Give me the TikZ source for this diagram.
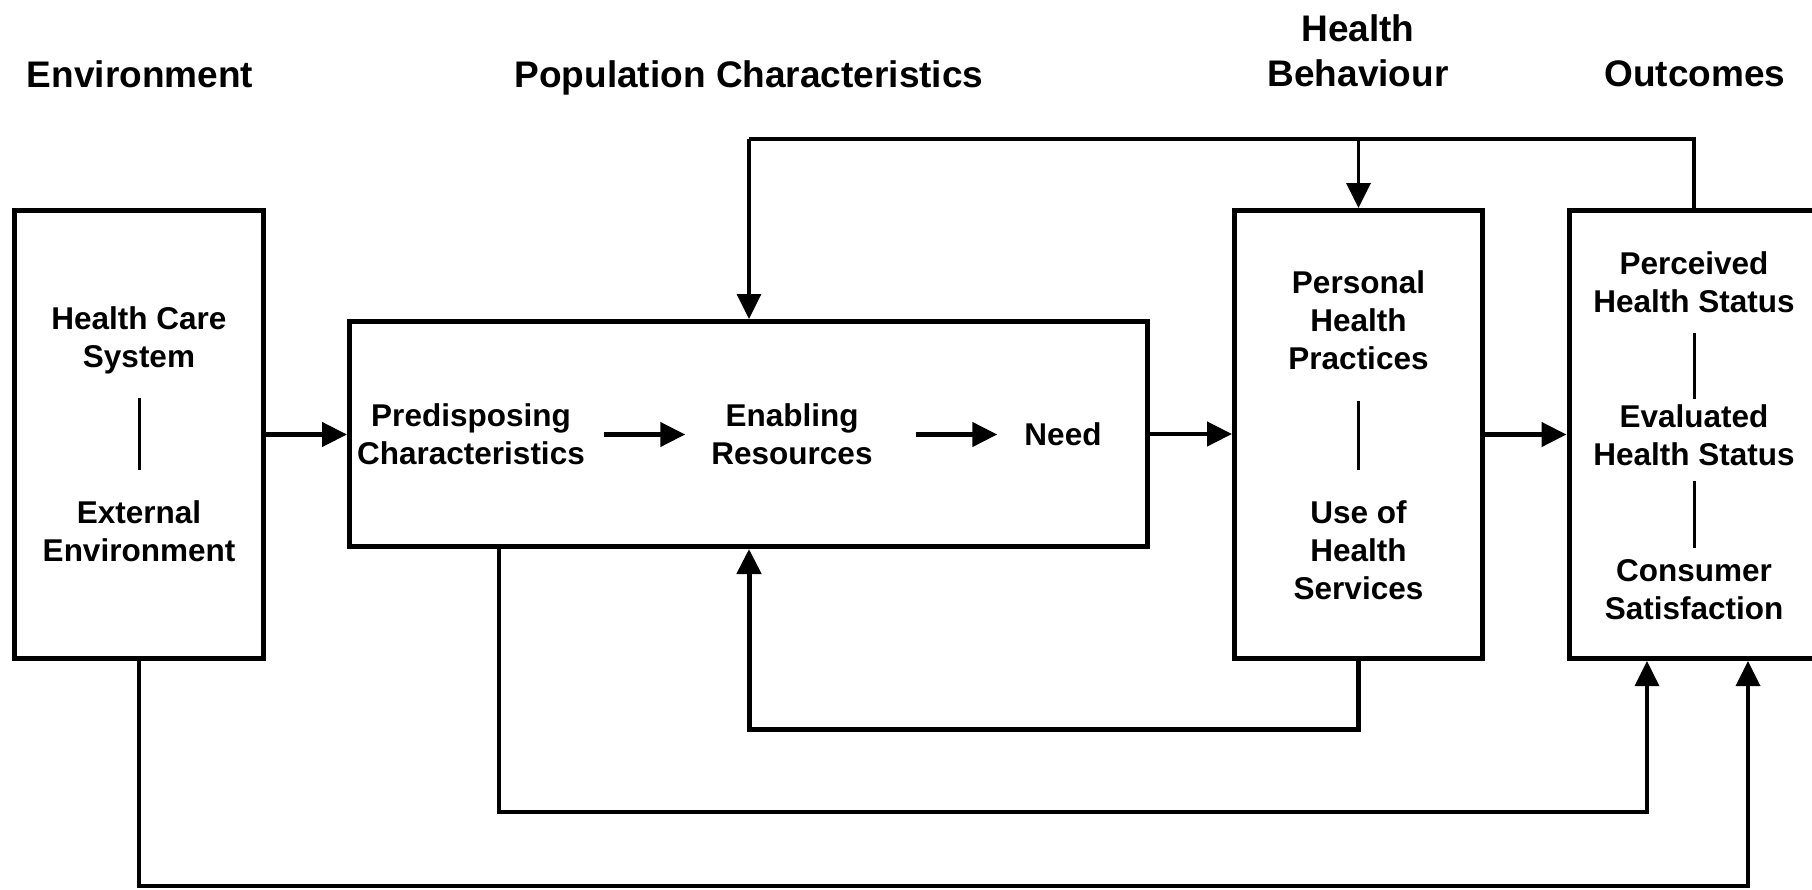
\documentclass[tikz,border=0pt]{standalone}
\usepackage{fontspec}
\setmainfont{Liberation Sans}
\usetikzlibrary{arrows.meta,calc}
\begin{document}
\begin{tikzpicture}[x=1pt,y=-1pt,
  box/.style={draw,line width=5pt,inner sep=0pt,rectangle},
  txt/.style={font=\fontsize{31.5}{38}\selectfont\bfseries,align=center,inner sep=0pt},
  ttl/.style={font=\fontsize{37}{45}\selectfont\bfseries,align=center,inner sep=0pt},
  tip/.style={-{Triangle[length=25pt,width=24pt]}},
  arr/.style={line width=4.5pt,tip},
  lnk/.style={line width=3.5pt},
  sep/.style={line width=3pt}]
\useasboundingbox (0,0) rectangle (1812,889);
\clip (0,0) rectangle (1812,889);
\fill[white] (0,0) rectangle (1812,889);
% titles
\node[ttl] (tenv) at (140,74) {Environment};
\node[ttl] (tpop) at (749,78) {Population Characteristics};
\node[ttl] (tbeh) at (1358,51) {Health\\Behaviour};
\node[ttl] (tout) at (1695,74) {Outcomes};
% boxes
\node[box,minimum width=249pt,minimum height=448pt] (env) at (139,434.5) {};
\node[box,minimum width=798pt,minimum height=225pt] (pop) at (748.5,434) {};
\node[box,minimum width=248pt,minimum height=448pt] (beh) at (1358.5,434.5) {};
\node[box,minimum width=250pt,minimum height=448pt] (out) at (1694,434.5) {};
% texts
\node[txt] (hcs) at (139,340) {Health Care\\System};
\node[txt] (ext) at (139,531) {External\\Environment};
\node[txt] (pred) at (471,434.5) {Predisposing\\Characteristics};
\node[txt] (enab) at (792,434.5) {Enabling\\Resources};
\node[txt] (need) at (1063,434.5) {Need};
\node[txt] (php) at (1358.5,320) {Personal\\Health\\Practices};
\node[txt] (uhs) at (1358.5,550) {Use of\\Health\\Services};
\node[txt] (phs) at (1694,282) {Perceived\\Health Status};
\node[txt] (ehs) at (1694,435) {Evaluated\\Health Status};
\node[txt] (cs) at (1694,590) {Consumer\\Satisfaction};
% separators
\draw[sep] (139,398) -- (139,470);
\draw[sep] (1358.5,401) -- (1358.5,470);
\draw[sep] (1694,333) -- (1694,399);
\draw[sep] (1694,481) -- (1694,548);
% main arrows
\draw[arr] (env.east) -- (pop.west |- env.east);
\draw[arr] (pop.east) -- (beh.west |- pop.east);
\draw[arr] (beh.east) -- (out.west |- beh.east);
\draw[arr] ([xshift=19pt]pred.east) -- ([xshift=-26pt]enab.west);
\draw[arr] ([xshift=43pt]enab.east) -- ([xshift=-27pt]need.west);
% top feedback
\coordinate (t1) at (749,139);
\coordinate (t2) at (1694,139);
\coordinate (t3) at (1358.5,139);
\draw[lnk] (out.north) -- (t2) -- (t1);
\draw[lnk,tip] (t1) -- (pop.north -| t1);
\draw[lnk,tip] (t3) -- (beh.north);
% bottom feedbacks
\coordinate (b1) at (1358.5,729);
\coordinate (b2) at (749,729);
\draw[line width=5pt,tip] (beh.south) -- (b1) -- (b2) -- (pop.south -| b2);
\coordinate (c1) at (499,812);
\coordinate (c2) at (1647,812);
\draw[lnk,tip] (pop.south -| c1) -- (c1) -- (c2) -- (out.south -| c2);
\coordinate (d1) at (139,886);
\coordinate (d2) at (1748,886);
\draw[lnk,tip] (env.south) -- (d1) -- (d2) -- (out.south -| d2);
\end{tikzpicture}
\end{document}
